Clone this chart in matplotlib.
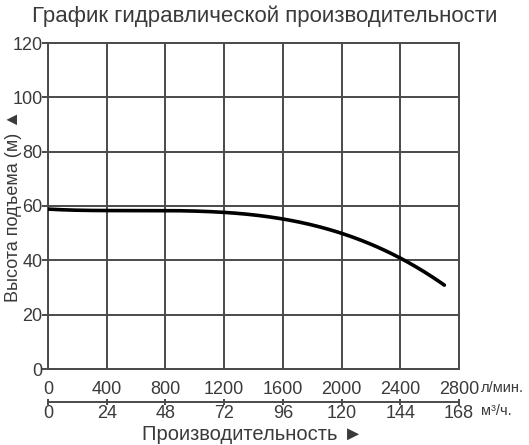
import matplotlib.pyplot as plt
import numpy as np

plt.rcParams['font.family'] = ['Liberation Sans', 'DejaVu Sans']

# данные кривой (л/мин -> м)
flow_lpm = [0, 400, 800, 1200, 1600, 2000, 2400, 2700]
head_m = [58.8, 58.5, 58.2, 57.5, 55.3, 50.2, 40.5, 31.0]

x_ticks = [0, 400, 800, 1200, 1600, 2000, 2400, 2800]
m3h_ticks = [0, 24, 48, 72, 96, 120, 144, 168]
y_ticks = [0, 20, 40, 60, 80, 100, 120]

txt = '#3a3a3a'
grid_c = '#4a4a4a'

fig = plt.figure(figsize=(5.29, 4.45), dpi=100)
ax = fig.add_axes([48/529, 76/445, 411/529, 326/445])

# сглаженная кривая
xs = np.linspace(flow_lpm[0], flow_lpm[-1], 200)
coef = np.polyfit(flow_lpm, head_m, 4)
ax.plot(xs, np.polyval(coef, xs), color='black', lw=2.6, solid_capstyle='round', zorder=3)

ax.set_xlim(0, 2800)
ax.set_ylim(0, 120)
ax.set_xticks(x_ticks)
ax.set_yticks(y_ticks)
ax.grid(True, color=grid_c, lw=1.4)
for s in ax.spines.values():
    s.set_color(grid_c)
    s.set_linewidth(1.4)
ax.tick_params(axis='y', length=4, width=1.4, color=grid_c, labelsize=13, labelcolor=txt, pad=0)
ax.tick_params(axis='x', length=0, labelsize=13, labelcolor=txt, pad=9)

# вторая шкала м3/ч
sec = ax.secondary_xaxis(-0.1, functions=(lambda x: x * 0.06, lambda x: x / 0.06))
sec.set_xticks(m3h_ticks)
sec.spines['bottom'].set_color(grid_c)
sec.spines['bottom'].set_linewidth(1.4)
sec.tick_params(axis='x', direction='inout', length=5, width=1.4, color=grid_c,
                labelsize=13, labelcolor=txt, pad=0)

fig.text(481/529, 1 - 388/445, 'л/мин.', fontsize=10.5, color=txt, va='center', ha='left')
fig.text(481/529, 1 - 411/445, 'м³/ч.', fontsize=10.5, color=txt, va='center', ha='left')

fig.text(0.5, 0.964, 'График гидравлической производительности', ha='center', va='center',
         fontsize=16, color=txt)
ax.set_ylabel('Высота подъема (м) ▲', fontsize=13, color=txt)
ax.yaxis.set_label_coords(-0.064, 0.5)
fig.text(253/529, 1 - 435/445, 'Производительность ►', ha='center', va='center', fontsize=14.5, color=txt)

fig.savefig('out.png', dpi=100)
